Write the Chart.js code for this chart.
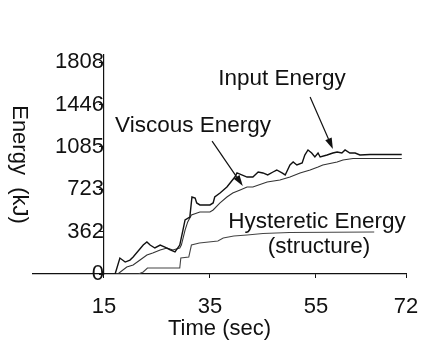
<!DOCTYPE html>
<html>
<head>
<meta charset="utf-8">
<script src="https://cdn.jsdelivr.net/npm/chart.js@4/dist/chart.umd.min.js"></script>
<style>
  html, body { margin: 0; padding: 0; background: #fff; }
  #wrap { position: relative; width: 422px; height: 344px; }
</style>
</head>
<body>
<div id="wrap"><canvas id="c"></canvas></div>
<script>
// ---- data ----
const inputTime = [15, 16.5, 17.1, 18.0, 19.0, 19.9, 20.5, 22.4, 23.1, 23.7, 24.6, 25.6, 26.5, 27.5, 28.4, 29.3, 29.9, 30.3, 31.2, 31.6, 32.2, 32.5, 33.1, 35.0, 35.6, 35.9, 36.9, 38.2, 38.8, 39.7, 40.1, 42.0, 43.1, 44.1, 45.0, 45.9, 46.9, 47.6, 48.6, 49.2, 50.1, 50.7, 51.4, 52.4, 52.9, 53.5, 54.2, 54.8, 55.4, 55.8, 57.1, 58.2, 59.0, 59.9, 60.5, 61.4, 62.4, 63.3, 65.2, 71.2];
const inputEnergy = [0, 0, 0, 136, 102, 119, 145, 247, 273, 247, 222, 247, 230, 205, 188, 247, 375, 461, 486, 657, 648, 606, 589, 589, 606, 657, 691, 742, 776, 827, 862, 827, 827, 870, 862, 845, 870, 887, 862, 845, 930, 955, 930, 947, 1015, 1058, 1032, 998, 1032, 998, 1015, 1032, 1041, 1032, 1058, 1032, 1032, 1015, 1019, 1019];

const viscousTime = [15, 17.6, 19.3, 20.5, 21.8, 23.1, 24.2, 25.6, 26.9, 28.0, 29.3, 29.6, 30.3, 30.8, 31.5, 33.1, 35.0, 35.6, 36.9, 38.2, 39.3, 40.7, 42.0, 43.1, 45.8, 48.2, 50.1, 52.0, 53.9, 55.4, 56.3, 59.0, 60.1, 62.0, 65.2, 71.2];
const viscousEnergy = [0, 0, 60, 77, 119, 162, 179, 205, 222, 205, 222, 247, 375, 444, 503, 529, 529, 546, 606, 657, 691, 717, 742, 742, 785, 802, 827, 862, 887, 913, 930, 955, 972, 985, 985, 985];

const hystTime = [15, 21.5, 22.4, 23.2, 29.3, 29.5, 31.0, 31.5, 33.0, 36.5, 37.5, 39.5, 42.0, 45.0, 50.0, 66.0];
const hystEnergy = [0, 0, 17, 51, 51, 136, 145, 247, 264, 281, 307, 324, 333, 345, 354, 358];

const xTickValues = [15, 35, 55, 72];
const yTickValues = [0, 362, 723, 1085, 1446, 1808];

const noteTexts = ['Input Energy', 'Viscous Energy', 'Hysteretic Energy', '(structure)'];
const noteTime = [48.6, 31.8, 55.2, 55.6];
const noteEnergy = [1663, 1262, 444, 230];

const arrowFromTime = [53.9, 35.4];
const arrowFromEnergy = [1510, 1134];
const arrowToTime = [58.2, 41.2];
const arrowToEnergy = [1066, 751];

// ---- build ----
const pts = (xs, ys) => xs.map((x, i) => ({ x: x, y: ys[i] }));
const INK = '#111';
const FONT = "'Liberation Sans', Arial, Helvetica, sans-serif";

const notesPlugin = {
  id: 'notes',
  afterDatasetsDraw(chart) {
    const { ctx, scales: { x, y } } = chart;
    ctx.save();
    ctx.fillStyle = INK;
    ctx.font = '22.5px ' + FONT;
    ctx.textAlign = 'center';
    ctx.textBaseline = 'middle';
    noteTexts.forEach((t, i) => {
      ctx.fillText(t, x.getPixelForValue(noteTime[i]), y.getPixelForValue(noteEnergy[i]));
    });
    ctx.strokeStyle = INK;
    ctx.lineWidth = 1.2;
    arrowFromTime.forEach((t, i) => {
      const x1 = x.getPixelForValue(t), y1 = y.getPixelForValue(arrowFromEnergy[i]);
      const x2 = x.getPixelForValue(arrowToTime[i]), y2 = y.getPixelForValue(arrowToEnergy[i]);
      const ang = Math.atan2(y2 - y1, x2 - x1);
      const L = 11, W = 3.5;
      ctx.beginPath();
      ctx.moveTo(x1, y1);
      ctx.lineTo(x2 - L * Math.cos(ang), y2 - L * Math.sin(ang));
      ctx.stroke();
      ctx.beginPath();
      ctx.moveTo(x2, y2);
      ctx.lineTo(x2 - L * Math.cos(ang) + W * Math.sin(ang), y2 - L * Math.sin(ang) - W * Math.cos(ang));
      ctx.lineTo(x2 - L * Math.cos(ang) - W * Math.sin(ang), y2 - L * Math.sin(ang) + W * Math.cos(ang));
      ctx.closePath();
      ctx.fill();
    });
    ctx.restore();
  }
};

Chart.defaults.font.family = FONT;
Chart.defaults.font.size = 22;
Chart.defaults.color = INK;

new Chart(document.getElementById('c'), {
  type: 'line',
  data: {
    datasets: [
      { label: 'Input Energy', data: pts(inputTime, inputEnergy), borderColor: '#111', borderWidth: 1.4 },
      { label: 'Viscous Energy', data: pts(viscousTime, viscousEnergy), borderColor: '#333', borderWidth: 1.1 },
      { label: 'Hysteretic Energy (structure)', data: pts(hystTime, hystEnergy), borderColor: '#444', borderWidth: 1.1 }
    ]
  },
  options: {
    responsive: true,
    maintainAspectRatio: false,
    animation: false,
    events: [],
    elements: { point: { radius: 0 }, line: { tension: 0, fill: false } },
    layout: { padding: { left: 33, right: 16, top: 55, bottom: 0 } },
    plugins: { legend: { display: false }, tooltip: { enabled: false } },
    scales: {
      x: {
        type: 'linear',
        min: 1.6,
        max: 72,
        afterBuildTicks: (s) => { s.ticks = xTickValues.map(v => ({ value: v })); },
        afterFit: (s) => { s.height = 70; s.paddingLeft = 0; s.paddingRight = 0; },
        ticks: { padding: 16, font: { size: 22 }, color: INK, callback: (v) => String(v) },
        grid: { drawOnChartArea: false, drawTicks: true, tickLength: 4, color: INK },
        border: { display: true, color: INK, width: 1.2 },
        title: { display: true, text: 'Time (sec)', font: { size: 22 }, color: INK, padding: { top: 0, bottom: 2 } }
      },
      y: {
        type: 'linear',
        position: { x: 15 },
        min: 0,
        max: 1868,
        afterBuildTicks: (s) => { s.ticks = yTickValues.map(v => ({ value: v })); },
        ticks: { padding: 8, font: { size: 22 }, color: INK, callback: (v) => String(v) },
        grid: { drawOnChartArea: false, drawTicks: true, tickLength: 4, color: INK },
        border: { display: true, color: INK, width: 1.2 },
        title: { display: true, text: 'Energy  (kJ)', font: { size: 22 }, color: INK, padding: { top: 3, bottom: 0 } }
      }
    }
  },
  plugins: [notesPlugin]
});
</script>
</body>
</html>
